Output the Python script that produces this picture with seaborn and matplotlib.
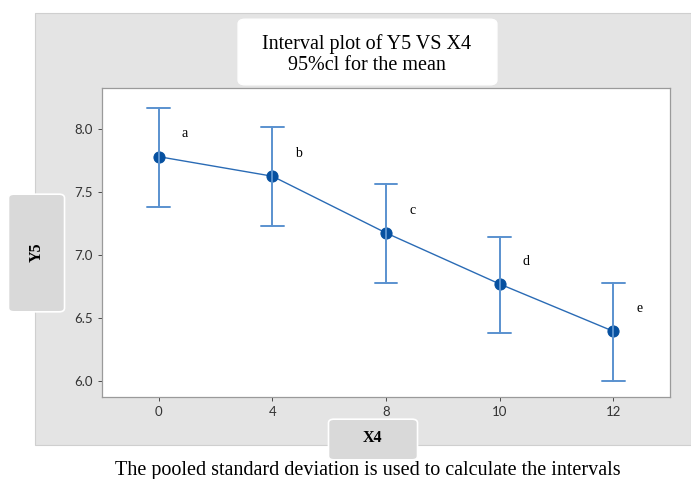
import numpy as np
import pandas as pd
import seaborn as sns
import matplotlib.pyplot as plt
from matplotlib.patches import FancyBboxPatch, Rectangle

# interval plot data
x_levels = ["0", "4", "8", "10", "12"]
means = [7.78, 7.625, 7.175, 6.77, 6.395]
lower = [7.38, 7.23, 6.78, 6.38, 6.00]
upper = [8.165, 8.015, 7.565, 7.145, 6.78]
groups = ["a", "b", "c", "d", "e"]

rows = []
for lv, lo, m, up in zip(x_levels, lower, means, upper):
    for v in (lo, m, up):
        rows.append({"X4": lv, "Y5": v})
df = pd.DataFrame(rows)

sns.set_style("white")
plt.rcParams["font.family"] = ["Lato", "DejaVu Sans"]
plt.rcParams["text.color"] = "black"

fig = plt.figure(figsize=(6.91, 4.79), dpi=100)
W, H = 691, 479

def fx(px):
    return px / W

def fy(py):
    return 1 - py / H

# grey outer panel
fig.patches.append(Rectangle((fx(35), fy(445)), fx(691 - 35), (445 - 13) / H,
                             transform=fig.transFigure, facecolor="#e4e4e4",
                             edgecolor="#cfcfcf", lw=0.8, zorder=-2))

ax = fig.add_axes([fx(102), fy(397), fx(670 - 102), (397 - 88) / H])
ax.set_zorder(2)
ax.set_facecolor("white")

sns.pointplot(data=df, x="X4", y="Y5", order=x_levels, estimator="median",
              errorbar=lambda v: (v.min(), v.max()), capsize=0.2,
              color="#0a52a3", markers="o", markersize=8, linewidth=1.0,
              err_kws={"color": "#5a92cf", "linewidth": 1.4}, ax=ax)

# line a bit lighter than the markers
for ln in ax.lines:
    if ln.get_marker() == "o":
        ln.set_color("#2a6bb5")
        ln.set_markerfacecolor("#0650a0")
        ln.set_markeredgecolor("#0650a0")

for i, (m, g) in enumerate(zip(means, groups)):
    ax.text(i + 0.23, m + 0.18, g, fontsize=10, family="Liberation Serif",
            ha="center", va="center", color="black")

ax.set_xlim(-0.5, 4.5)
ax.set_ylim(5.873, 8.325)
ax.set_yticks([6.0, 6.5, 7.0, 7.5, 8.0])
ax.set_yticklabels(["6.0", "6.5", "7.0", "7.5", "8.0"])
ax.set_xlabel("")
ax.set_ylabel("")
ax.tick_params(axis="both", labelsize=9.5, colors="#333333", length=3,
               width=0.6, direction="out", left=True, bottom=True)
for s in ax.spines.values():
    s.set_color("#9a9a9a")
    s.set_linewidth(0.9)

# title box
fig.patches.append(FancyBboxPatch((fx(245), fy(80)), fx(497 - 245 - 7), (80 - 24) / H,
                                  boxstyle="round,pad=0.01", transform=fig.transFigure,
                                  facecolor="white", edgecolor="white", zorder=1))
fig.text(fx(367), fy(44), "Interval plot of Y5 VS X4", ha="center", va="center",
         fontsize=14.5, family="Liberation Serif")
fig.text(fx(367), fy(66), "95%cl for the mean", ha="center", va="center",
         fontsize=14.5, family="Liberation Serif")

# y label box
fig.patches.append(FancyBboxPatch((fx(14), fy(308)), fx(64 - 14 - 5), (308 - 198) / H,
                                  boxstyle="round,pad=0.008", transform=fig.transFigure,
                                  facecolor="#d9d9d9", edgecolor="white", lw=1.2, zorder=5))
fig.text(fx(37), fy(252), "Y5", ha="center", va="center", rotation=90,
         fontsize=11.5, fontweight="bold", family="Liberation Serif", zorder=6)

# x label box
fig.patches.append(FancyBboxPatch((fx(334), fy(456)), fx(417 - 334 - 5), (456 - 423) / H,
                                  boxstyle="round,pad=0.008", transform=fig.transFigure,
                                  facecolor="#d9d9d9", edgecolor="white", lw=1.2, zorder=5))
fig.text(fx(372), fy(438), "X4", ha="center", va="center",
         fontsize=11.5, fontweight="bold", family="Liberation Serif", zorder=6)

fig.text(fx(368), fy(470), "The pooled standard deviation is used to calculate the intervals",
         ha="center", va="center", fontsize=14.5, family="Liberation Serif")

fig.savefig("out.png", dpi=100)
